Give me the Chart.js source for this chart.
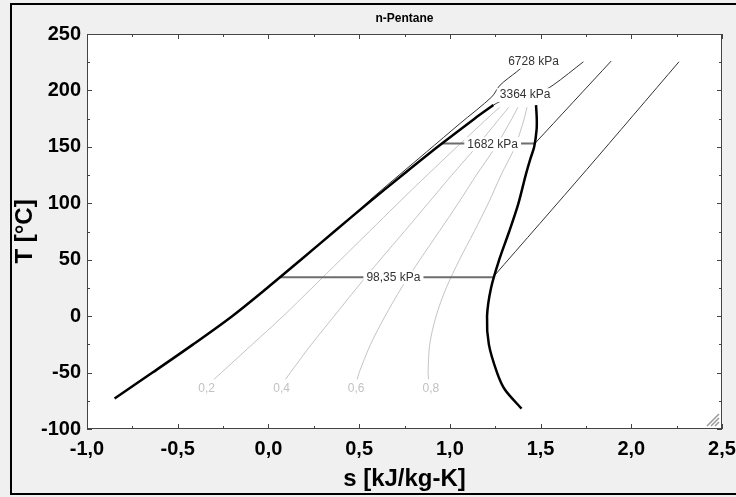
<!DOCTYPE html>
<html>
<head>
<meta charset="utf-8">
<script src="https://cdn.jsdelivr.net/npm/chart.js@4.4.1/dist/chart.umd.min.js"></script>
<style>
  html, body { margin: 0; padding: 0; background: #f0f0f0; }
</style>
</head>
<body>
<canvas id="chart" width="736" height="497"></canvas>
<script>
// n-Pentane T-s diagram
const FONT = "'Liberation Sans', Arial, sans-serif";

// saturation dome
const liqT = [-73, -50, -25, 0, 25, 50, 75, 100, 125, 150, 175, 187];
const liqS = [-0.848, -0.639, -0.415, -0.20, -0.007, 0.179, 0.363, 0.548, 0.739, 0.933, 1.136, 1.24];
const vapT = [-82, -65, -50, -25, 0, 25, 50, 75, 100, 125, 140, 150, 165, 175, 187];
const vapS = [1.395, 1.303, 1.26, 1.215, 1.205, 1.227, 1.272, 1.327, 1.378, 1.418, 1.445, 1.465, 1.478, 1.479, 1.475];

// quality lines
const qualT = [-56, -50, -25, 0, 25, 50, 75, 100, 125, 150, 175, 185];
const qual02 = [-0.300, -0.259, -0.089, 0.081, 0.240, 0.398, 0.556, 0.714, 0.875, 1.039, 1.205, 1.274];
const qual04 = [0.094, 0.121, 0.237, 0.362, 0.487, 0.616, 0.749, 0.880, 1.011, 1.146, 1.273, 1.324];
const qual06 = [0.489, 0.500, 0.563, 0.643, 0.733, 0.835, 0.941, 1.046, 1.146, 1.252, 1.342, 1.375];
const qual08 = [0.883, 0.880, 0.889, 0.924, 0.980, 1.053, 1.134, 1.212, 1.282, 1.359, 1.410, 1.425];
const qualNames = ['0,2', '0,4', '0,6', '0,8'];
const qualLabelS = [-0.341, 0.073, 0.483, 0.895];
const qualLabelT = [-64.5, -64.5, -64.5, -64.5];

// isobars
const p98T = [34.5, 34.5], p98S = [0.064, 1.238];
const p98supT = [34.5, 130, 225.4], p98supS = [1.238, 1.755, 2.263];
const p1682T = [152.9, 152.9], p1682S = [0.957, 1.468];
const p1682supT = [152.9, 226], p1682supS = [1.468, 1.889];
const p3364T = [170.5, 187, 193, 196, 198, 204.7, 225.4];
const p3364S = [1.10, 1.24, 1.32, 1.40, 1.49, 1.569, 1.736];
const p6728T = [94.5, 105.5, 145.6, 170.7, 194.3, 204.7, 216.5, 226];
const p6728S = [0.505, 0.578, 0.872, 1.056, 1.231, 1.277, 1.368, 1.44];
const isoNames = ['98,35 kPa', '1682 kPa', '3364 kPa', '6728 kPa'];
const isoLabelS = [0.689, 1.236, 1.415, 1.461];
const isoLabelT = [34.5, 152.3, 195.8, 225.4];

// axes
const sTicks = [-1.0, -0.5, 0.0, 0.5, 1.0, 1.5, 2.0, 2.5];
const sMinor = [-0.75, -0.25, 0.25, 0.75, 1.25, 1.75, 2.25];
const TTicks = [-100, -50, 0, 50, 100, 150, 200, 250];
const TMinor = [-75, -25, 25, 75, 125, 175, 225];

function pts(s, T) {
  return s.map((v, i) => ({ x: v, y: T[i] }));
}

function line(s, T, color, width) {
  return {
    data: pts(s, T),
    showLine: true,
    borderColor: color,
    borderWidth: width,
    pointRadius: 0,
    tension: 0.3,
    fill: false
  };
}

const decor = {
  id: 'decor',
  beforeDraw(chart) {
    const { ctx, chartArea: a } = chart;
    ctx.save();
    ctx.fillStyle = '#f0f0f0';
    ctx.fillRect(0, 0, chart.width, chart.height);
    ctx.strokeStyle = '#000';
    ctx.lineWidth = 2;
    ctx.strokeRect(11, 4, chart.width + 20, chart.height - 7);
    ctx.fillStyle = '#fff';
    ctx.fillRect(a.left, a.top, a.right - a.left, a.bottom - a.top);
    ctx.restore();
  },
  afterDatasetsDraw(chart) {
    const { ctx } = chart;
    const xs = chart.scales.x, ys = chart.scales.y;
    ctx.save();
    ctx.font = '12px ' + FONT;
    ctx.textAlign = 'center';
    ctx.textBaseline = 'middle';
    isoNames.forEach((t, i) => {
      const px = xs.getPixelForValue(isoLabelS[i]);
      const py = ys.getPixelForValue(isoLabelT[i]);
      const w = ctx.measureText(t).width + 6;
      ctx.fillStyle = '#fff';
      ctx.fillRect(px - w / 2, py - 7, w, 14);
      ctx.fillStyle = '#333';
      ctx.fillText(t, px, py);
    });
    ctx.fillStyle = '#c2c2c2';
    qualNames.forEach((t, i) => {
      ctx.fillText(t, xs.getPixelForValue(qualLabelS[i]), ys.getPixelForValue(qualLabelT[i]));
    });
    ctx.restore();
  },
  afterDraw(chart) {
    const { ctx, chartArea: a } = chart;
    const xs = chart.scales.x, ys = chart.scales.y;
    ctx.save();
    ctx.strokeStyle = '#444';
    ctx.lineWidth = 1;
    ctx.strokeRect(a.left + 0.5, a.top + 0.5, a.right - a.left - 1, a.bottom - a.top - 1);
    ctx.beginPath();
    const tick = (vals, len) => {
      vals.forEach(v => {
        const px = Math.round(xs.getPixelForValue(v)) + 0.5;
        ctx.moveTo(px, a.bottom); ctx.lineTo(px, a.bottom - len);
        ctx.moveTo(px, a.top); ctx.lineTo(px, a.top + len);
      });
    };
    const tickY = (vals, len) => {
      vals.forEach(v => {
        const py = Math.round(ys.getPixelForValue(v)) + 0.5;
        ctx.moveTo(a.left, py); ctx.lineTo(a.left + len, py);
        ctx.moveTo(a.right, py); ctx.lineTo(a.right - len, py);
      });
    };
    tick(sTicks, 5); tick(sMinor, 3);
    tickY(TTicks, 5); tickY(TMinor, 3);
    ctx.stroke();

    // resize grip
    ctx.strokeStyle = '#9a9a9a';
    ctx.lineWidth = 1.5;
    ctx.beginPath();
    [4, 8, 12].forEach(k => {
      ctx.moveTo(a.right - 3 - k, a.bottom - 3);
      ctx.lineTo(a.right - 3, a.bottom - 3 - k);
    });
    ctx.stroke();

    ctx.fillStyle = '#000';
    ctx.font = 'bold 12px ' + FONT;
    ctx.textAlign = 'center';
    ctx.textBaseline = 'middle';
    ctx.fillText('n-Pentane', (a.left + a.right) / 2, 19);
    ctx.restore();
  }
};

new Chart(document.getElementById('chart'), {
  type: 'scatter',
  data: {
    datasets: [
      line(liqS, liqT, '#000', 2.5),
      line(vapS, vapT, '#000', 2.5),
      line(p98S, p98T, '#6e6e6e', 2),
      line(p1682S, p1682T, '#6e6e6e', 2),
      line(p98supS, p98supT, '#333', 1),
      line(p1682supS, p1682supT, '#333', 1),
      line(p3364S, p3364T, '#333', 1),
      line(p6728S, p6728T, '#333', 1),
      line(qual02, qualT, '#c4c4c4', 1),
      line(qual04, qualT, '#c4c4c4', 1),
      line(qual06, qualT, '#c4c4c4', 1),
      line(qual08, qualT, '#c4c4c4', 1)
    ]
  },
  options: {
    responsive: false,
    animation: false,
    layout: { padding: { top: 34, right: 14, bottom: 0, left: 0 } },
    plugins: { legend: { display: false }, tooltip: { enabled: false } },
    scales: {
      x: {
        type: 'linear',
        min: -1, max: 2.5,
        afterBuildTicks: s => { s.ticks = sTicks.map(v => ({ value: v })); },
        afterFit: s => { s.height = 68; s.paddingLeft = 0; s.paddingRight = 0; },
        grid: { display: false, drawTicks: false },
        border: { display: false },
        ticks: {
          color: '#000',
          padding: 8,
          maxRotation: 0,
          font: { family: FONT, size: 20, weight: 'bold' },
          callback: v => v.toFixed(1).replace('.', ',')
        },
        title: {
          display: true,
          text: 's [kJ/kg-K]',
          color: '#000',
          padding: { top: 0, bottom: 3 },
          font: { family: FONT, size: 24, weight: 'bold' }
        }
      },
      y: {
        type: 'linear',
        min: -100, max: 250,
        afterBuildTicks: s => { s.ticks = TTicks.map(v => ({ value: v })); },
        afterFit: s => { s.width = 87; s.paddingTop = 0; s.paddingBottom = 0; },
        grid: { display: false, drawTicks: false },
        border: { display: false },
        ticks: {
          color: '#000',
          padding: 6,
          font: { family: FONT, size: 20, weight: 'bold' }
        },
        title: {
          display: true,
          text: 'T [°C]',
          color: '#000',
          padding: { top: 11, bottom: 0 },
          font: { family: FONT, size: 24, weight: 'bold' }
        }
      }
    }
  },
  plugins: [decor]
});
</script>
</body>
</html>
